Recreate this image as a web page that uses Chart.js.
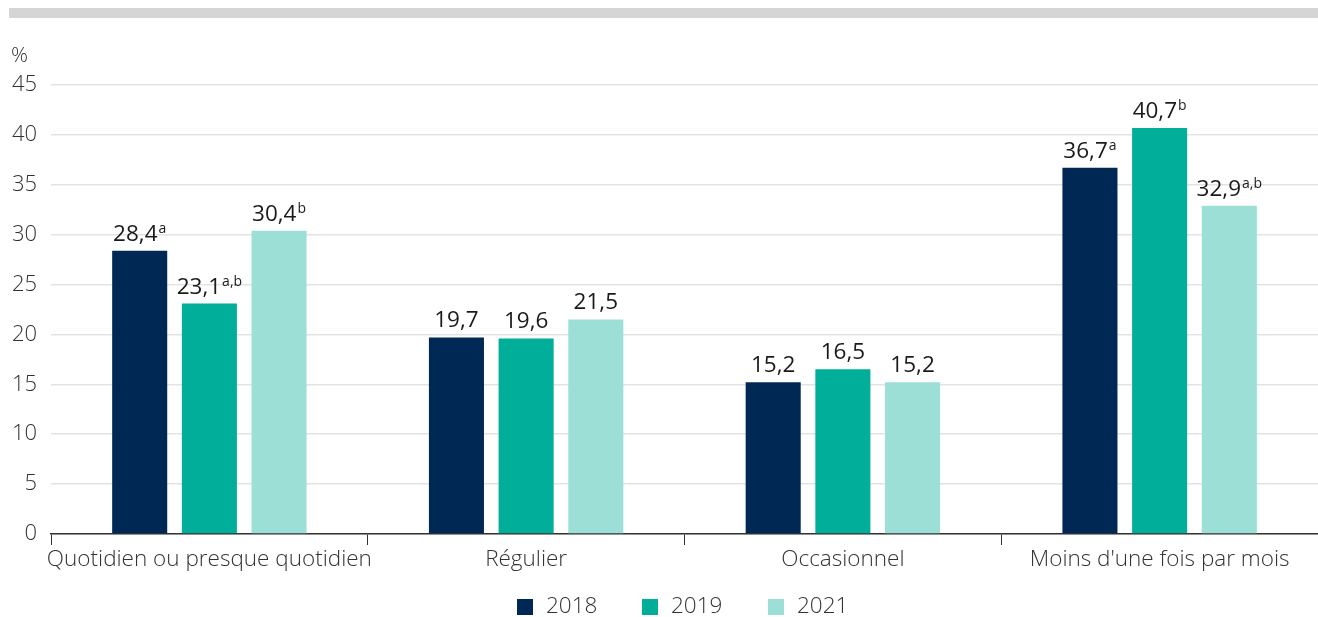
<!DOCTYPE html>
<html>
<head>
<meta charset="utf-8">
<script src="https://cdn.jsdelivr.net/npm/chart.js@4"></script>
<style>
    html, body { margin: 0; padding: 0; background: #fff; }
    #wrap { width: 1318px; height: 617px; position: relative; }
</style>
</head>
<body>
<div id="wrap"><canvas id="chart" width="1318" height="617"></canvas></div>
<script>
// Chart data
const categories = ['Quotidien ou presque quotidien', 'Régulier', 'Occasionnel', "Moins d'une fois par mois"];
const years = ['2018', '2019', '2021'];
const values2018 = [28.4, 19.7, 15.2, 36.7];
const values2019 = [23.1, 19.6, 16.5, 40.7];
const values2021 = [30.4, 21.5, 15.2, 32.9];
const notes2018 = ['a', '', '', 'a'];
const notes2019 = ['a,b', '', '', 'b'];
const notes2021 = ['b', '', '', 'a,b'];
const colors = ['#002855', '#00ae9a', '#9bdfd7'];

const FONT = "'Open Sans', sans-serif";

// Grey band, % unit and custom legend
const decorPlugin = {
    id: 'decor',
    beforeDraw(chart) {
        const ctx = chart.ctx;
        ctx.save();
        ctx.fillStyle = '#d5d5d5';
        ctx.fillRect(9, 8, 1309, 10);
        ctx.fillStyle = '#333';
        ctx.font = '300 21px ' + FONT;
        ctx.textBaseline = 'middle';
        ctx.textAlign = 'left';
        ctx.fillText('%', 11, 56);
        ctx.restore();
    },
    afterDraw(chart) {
        const ctx = chart.ctx;
        ctx.save();
        ctx.font = '300 22.5px ' + FONT;
        ctx.textBaseline = 'middle';
        ctx.textAlign = 'left';
        const starts = [517, 642, 768];
        chart.data.datasets.forEach((ds, i) => {
            ctx.fillStyle = ds.backgroundColor;
            ctx.fillRect(starts[i], 599, 16, 16);
            ctx.fillStyle = '#333';
            ctx.fillText(ds.label, starts[i] + 29, 607);
        });
        ctx.restore();
    }
};

// Value labels with superscript notes
const labelPlugin = {
    id: 'valueLabels',
    afterDatasetsDraw(chart) {
        const ctx = chart.ctx;
        ctx.save();
        ctx.textBaseline = 'alphabetic';
        ctx.textAlign = 'left';
        chart.data.datasets.forEach((ds, i) => {
            chart.getDatasetMeta(i).data.forEach((bar, j) => {
                const main = ds.data[j].toFixed(1).replace('.', ',');
                const sup = ds.notes[j];
                ctx.font = '22.5px ' + FONT;
                const w1 = ctx.measureText(main).width;
                ctx.font = '14px ' + FONT;
                const w2 = sup ? ctx.measureText(sup).width + 1 : 0;
                const x0 = bar.x - (w1 + w2) / 2;
                const base = bar.y - 10;
                ctx.fillStyle = '#1a1a1a';
                ctx.font = '22.5px ' + FONT;
                ctx.fillText(main, x0, base);
                if (sup) {
                    ctx.font = '14px ' + FONT;
                    ctx.fillText(sup, x0 + w1 + 1, base - 8);
                }
            });
        });
        ctx.restore();
    }
};

new Chart(document.getElementById('chart').getContext('2d'), {
    type: 'bar',
    data: {
        labels: categories,
        datasets: [
            { label: years[0], data: values2018, notes: notes2018, backgroundColor: colors[0] },
            { label: years[1], data: values2019, notes: notes2019, backgroundColor: colors[1] },
            { label: years[2], data: values2021, notes: notes2021, backgroundColor: colors[2] }
        ]
    },
    options: {
        responsive: false,
        animation: false,
        events: [],
        categoryPercentage: 0.66,
        barPercentage: 0.79,
        layout: { padding: { top: 85, right: 0, bottom: 33, left: 0 } },
        plugins: {
            legend: { display: false },
            tooltip: { enabled: false }
        },
        scales: {
            y: {
                min: 0,
                max: 45,
                ticks: {
                    stepSize: 5,
                    color: '#333',
                    padding: 14,
                    font: { family: FONT, size: 22, weight: '300' }
                },
                grid: { color: '#e3e3e3', lineWidth: 1.5, drawTicks: false },
                border: { display: false },
                afterFit(scale) { scale.width = 51; }
            },
            x: {
                ticks: {
                    color: '#333',
                    padding: 1,
                    maxRotation: 0,
                    minRotation: 0,
                    autoSkip: false,
                    font: { family: FONT, size: 22.5, weight: '300' }
                },
                grid: {
                    offset: true,
                    drawOnChartArea: false,
                    tickLength: 11,
                    color: '#333',
                    lineWidth: 1
                },
                border: { display: true, color: '#333', width: 1.5 },
                afterFit(scale) {
                    scale.height = 50;
                    scale.paddingLeft = 0;
                    scale.paddingRight = 0;
                }
            }
        }
    },
    plugins: [decorPlugin, labelPlugin]
});
</script>
</body>
</html>
